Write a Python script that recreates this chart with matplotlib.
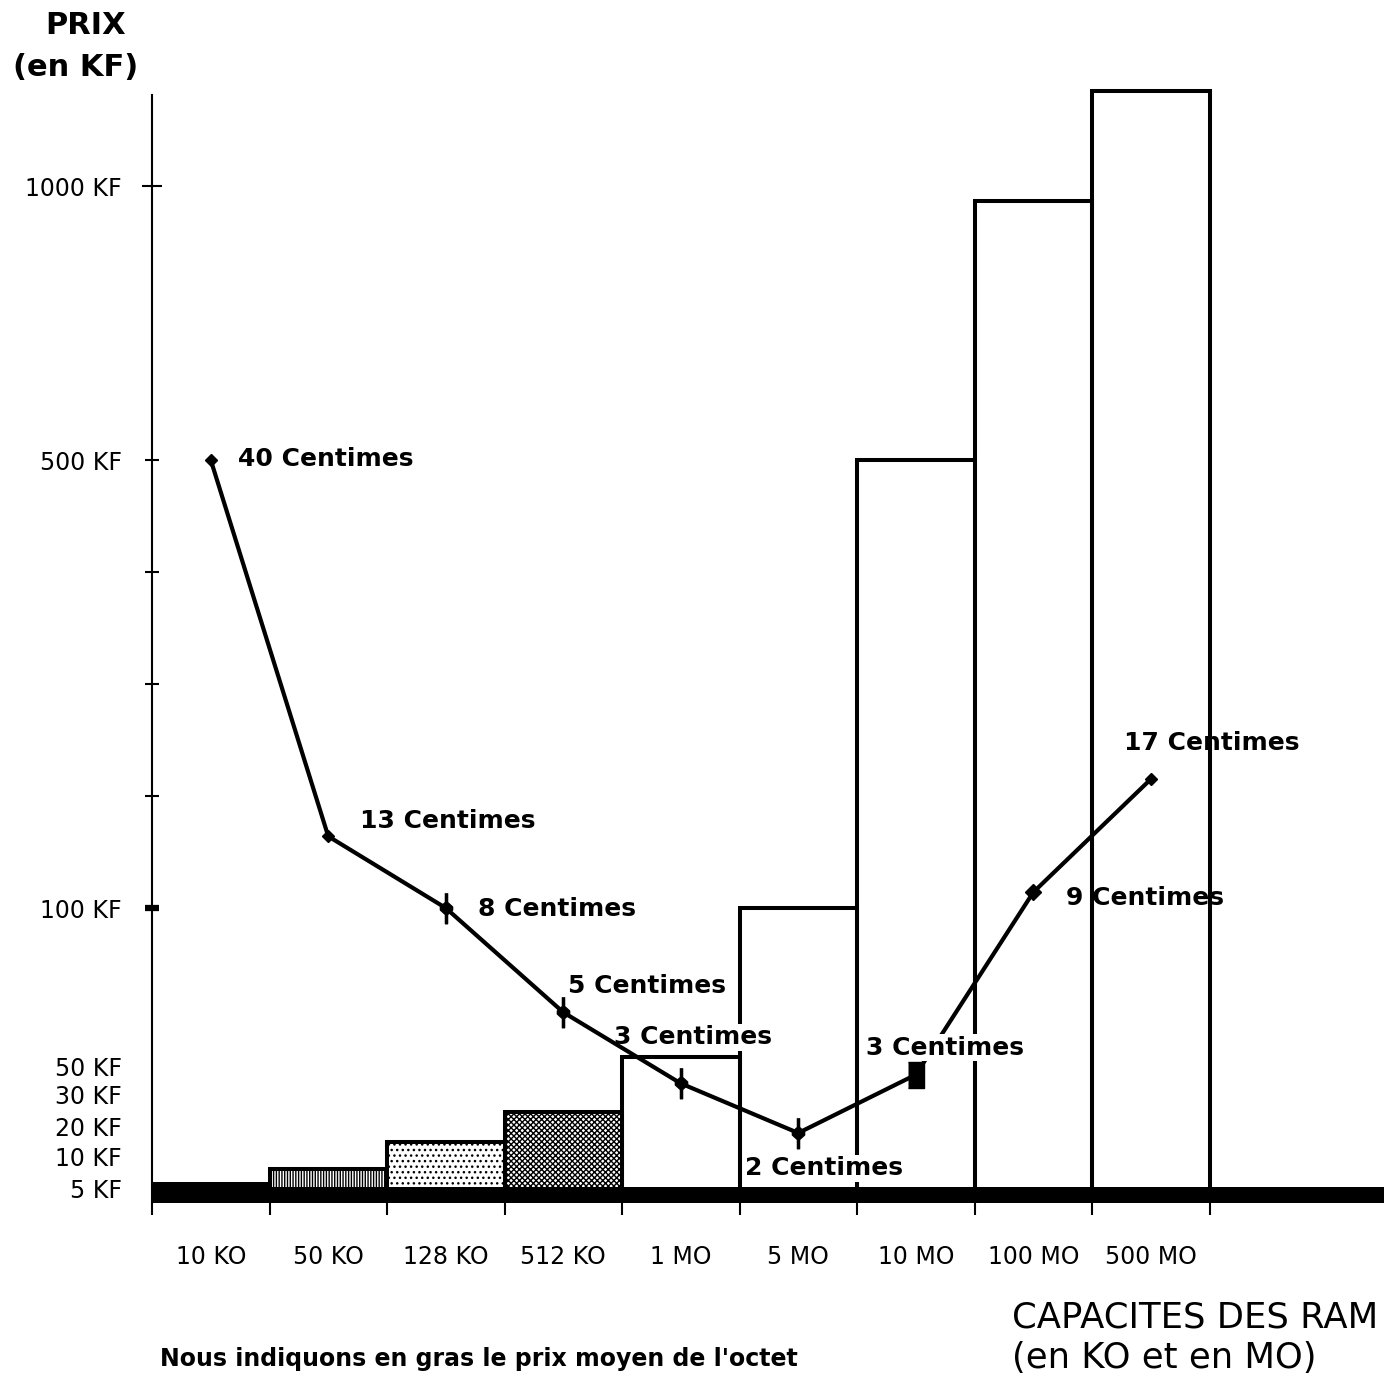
import numpy as np
import matplotlib
matplotlib.use("Agg")
import matplotlib.pyplot as plt

# capacites des RAM (une barre par classe)
capacites = ["10 KO", "50 KO", "128 KO", "512 KO", "1 MO", "5 MO", "10 MO", "100 MO", "500 MO"]
# prix de la RAM en KF (barres)
prix_ram = [5.6, 8.1, 15, 24.7, 52.8, 100, 500, 973, 1173]
# points de la courbe (KF) et prix moyen de l'octet (centimes)
prix_courbe = [500, 164, 100, 67, 38, 18, 44, 114, 215]
centimes = [40, 13, 8, 5, 3, 2, 3, 9, 17]

ytick_vals = [5, 10, 20, 30, 50, 100, 500, 1000]
ytick_labels = ["5 KF", "10 KF", "20 KF", "30 KF", "50 KF", "100 KF", "500 KF", "1000 KF"]
ytick_minor = [200, 300, 400]

# the old chart has an irregular price axis -> piecewise linear scale
knot_vals = np.array([0, 5, 10, 20, 30, 50, 100, 500, 1000, 1200], dtype=float)
knot_h = 1203 - np.array([1203, 1188, 1157, 1127, 1095, 1066, 908, 460, 186, 76], dtype=float)


def fwd(v):
    return np.interp(v, knot_vals, knot_h)


def inv(h):
    return np.interp(h, knot_h, knot_vals)


W, H = 1399, 1376
fig = plt.figure(figsize=(W / 100, H / 100), dpi=100)
ax = fig.add_axes([152 / W, (H - 1203) / H, (1384 - 152) / W, 1118 / H])
ax.set_yscale("function", functions=(fwd, inv))
ax.set_ylim(0, inv(1118))
ax.set_xlim(0, (1384 - 152) / 117.5)

plt.rcParams["hatch.linewidth"] = 1.0

x = np.arange(len(capacites)) + 0.5

# bars (empty ones are transparent so the labels behind them stay visible)
bars = ax.bar(x, prix_ram, width=1.0, facecolor="none", edgecolor="black",
              linewidth=2.9, zorder=2)
bars[0].set_facecolor("black")
bars[1].set_facecolor("white")
bars[1].set_hatch("||||||")
bars[2].set_facecolor("white")
bars[2].set_hatch("...")
bars[3].set_facecolor("white")
bars[3].set_hatch("xxxxxx")

# thick base line
ax.axhspan(0, 5.16, color="black", zorder=3, lw=0)

# price per byte curve
ax.plot(x, prix_courbe, color="black", lw=3, zorder=4)

spike = [(0.07, 1), (0.07, 0.4), (0.4, 0.1), (0.4, -0.1), (0.07, -0.4), (0.07, -1),
         (-0.07, -1), (-0.07, -0.4), (-0.4, -0.1), (-0.4, 0.1), (-0.07, 0.4), (-0.07, 1)]
block = [(-0.3, -0.5), (0.3, -0.5), (0.3, 0.5), (-0.3, 0.5)]
markers = ["D", "D", spike, spike, spike, spike, block, "D", "D"]
msizes = [6, 6, 22, 22, 22, 22, 19, 8, 6]
for i in range(len(x)):
    ax.plot(x[i], prix_courbe[i], marker=markers[i], ms=msizes[i], color="black",
            mec="black", zorder=4)

# labels "xx Centimes"
offsets = [(27, 1), (32, 15), (32, -1), (5, 26), (-67, 46), (-53, -35), (-50, 27), (33, -6), (-27, 36)]
white = dict(facecolor="white", edgecolor="none", pad=1)
boxes = [None, None, None, None, white, white, white, None, None]
zords = [5, 5, 5, 5, 2.5, 2.5, 5, 1.5, 1.5]
for i, c in enumerate(centimes):
    ax.annotate(f"{c} Centimes", (x[i], prix_courbe[i]), xytext=offsets[i],
                textcoords="offset pixels", ha="left", va="center", fontsize=18,
                fontweight="bold", zorder=zords[i], bbox=boxes[i])

# axes
for s in ["top", "right", "bottom"]:
    ax.spines[s].set_visible(False)
ax.spines["left"].set_linewidth(1.5)
ax.spines["left"].set_bounds(0, inv(1203 - 95))

ax.set_yticks(ytick_vals, ytick_labels)
ax.set_yticks(ytick_minor, minor=True)
ax.tick_params(axis="y", which="both", direction="inout", length=9.5, width=1.5,
               labelsize=17, pad=17)
for t, v in zip(ax.yaxis.get_major_ticks(), ytick_vals):
    if v < 100:
        t.tick1line.set_visible(False)
    if v == 100:
        t.tick1line.set_markeredgewidth(4.5)
    if v == 1000:
        t.tick1line.set_markersize(14)

ax.set_xticks(np.arange(len(capacites) + 1), [""] * (len(capacites) + 1))
ax.set_xticks(x, capacites, minor=True)
ax.tick_params(axis="x", which="major", direction="out", length=8.6, width=1.5)
ax.tick_params(axis="x", which="minor", length=0, pad=30, labelsize=17)

# titles
fig.text(86 / W, 1 - 25 / H, "PRIX", ha="center", va="center", fontsize=22, fontweight="bold")
fig.text(76 / W, 1 - 68 / H, "(en KF)", ha="center", va="center", fontsize=22, fontweight="bold")
fig.text(1012 / W, 1 - 1317 / H, "CAPACITES DES RAM", ha="left", va="center", fontsize=25.5)
fig.text(1012 / W, 1 - 1358 / H, "(en KO et en MO)", ha="left", va="center", fontsize=25.5)
fig.text(160 / W, 1 - 1366 / H, "Nous indiquons en gras le prix moyen de l'octet",
         ha="left", va="baseline", fontsize=17, fontweight="bold")

fig.savefig("out.png", dpi=100)
